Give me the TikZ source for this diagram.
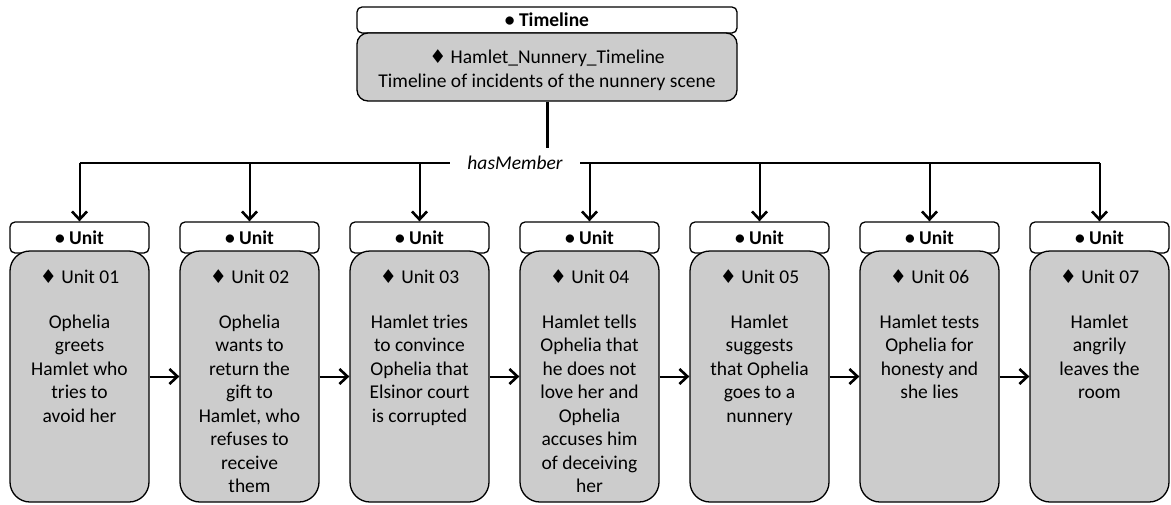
\documentclass[tikz,border=0pt]{standalone}
\usepackage{fontspec}
\setmainfont{Carlito}
\newfontfamily\symf{DejaVu Sans}
\usetikzlibrary{arrows.meta}
\definecolor{boxgray}{RGB}{204,204,204}
\newcommand{\dia}{{\symf\fontsize{19}{19}\selectfont ♦}}
\tikzset{
  hdr/.style={draw, line width=1.3pt, rounded corners=5pt, fill=white, minimum width=#1, inner sep=0pt, font=\fontsize{19.5}{21}\selectfont\bfseries},
  body/.style={draw, line width=1.3pt, rounded corners=20pt, fill=boxgray, minimum width=139pt, minimum height=251pt, inner sep=0pt},
  ttl/.style={inner sep=0pt, font=\fontsize{19.5}{22}\selectfont},
  desc/.style={inner sep=0pt, align=center, font=\fontsize{19.5}{23.5}\selectfont},
  link/.style={line width=2pt, -{Straight Barb[length=8pt,width=15pt,line width=2.6pt]}},
}
\begin{document}
\begin{tikzpicture}[x=1pt,y=-1pt]
\useasboundingbox (0,0) rectangle (1171,504);
% top
\node[hdr=380pt, minimum height=26pt] (th) at (547,20) {• Timeline};
\node[body, minimum width=380pt, minimum height=68pt, rounded corners=11pt] (tb) at (547,67) {};
\node[ttl] (tt1) at (547,58) {\dia\ Hamlet\_Nunnery\_Timeline};
\node[ttl] (tt2) at (547,82) {Timeline of incidents of the nunnery scene};
\coordinate (hub) at (547,163);
\coordinate (hl) at (79.5,163);
\coordinate (hr) at (1099.5,163);
\draw[line width=3pt] (tb.south) -- (hub);
\draw[line width=2pt] (hl) -- (hr);
\node[fill=white, inner xsep=6pt, minimum width=130pt, minimum height=30pt, font=\fontsize{19.5}{21}\selectfont\itshape] (hm) at (515,163) {hasMember};
% units
\foreach \i/\t in {1/{Ophelia\\greets\\Hamlet who\\tries to\\avoid her},
                   2/{Ophelia\\wants to\\return the\\gift to\\Hamlet, who\\refuses to\\receive\\them},
                   3/{Hamlet tries\\to convince\\Ophelia that\\Elsinor court\\is corrupted},
                   4/{Hamlet tells\\Ophelia that\\he does not\\love her and\\Ophelia\\accuses him\\of deceiving\\her},
                   5/{Hamlet\\suggests\\that Ophelia\\goes to a\\nunnery},
                   6/{Hamlet tests\\Ophelia for\\honesty and\\she lies},
                   7/{Hamlet\\angrily\\leaves the\\room}} {
  \pgfmathsetmacro{\cx}{79.5+170*(\i-1)}
  \node[hdr=139pt, minimum height=31pt] (h\i) at (\cx,237.5) {• Unit};
  \node[body] (u\i) at (\cx,376.5) {};
  \node[ttl] (n\i) at (\cx,277) {\dia\ Unit 0\i};
  \node[desc, anchor=north] (d\i) at (\cx,314.5) {\t};
  \coordinate (b\i) at (\cx,163);
  \draw[link] (b\i) -- (h\i.north);
}
\foreach \i/\j in {1/2,2/3,3/4,4/5,5/6,6/7} {
  \draw[link] (u\i.east) -- (u\j.west);
}
\end{tikzpicture}
\end{document}
